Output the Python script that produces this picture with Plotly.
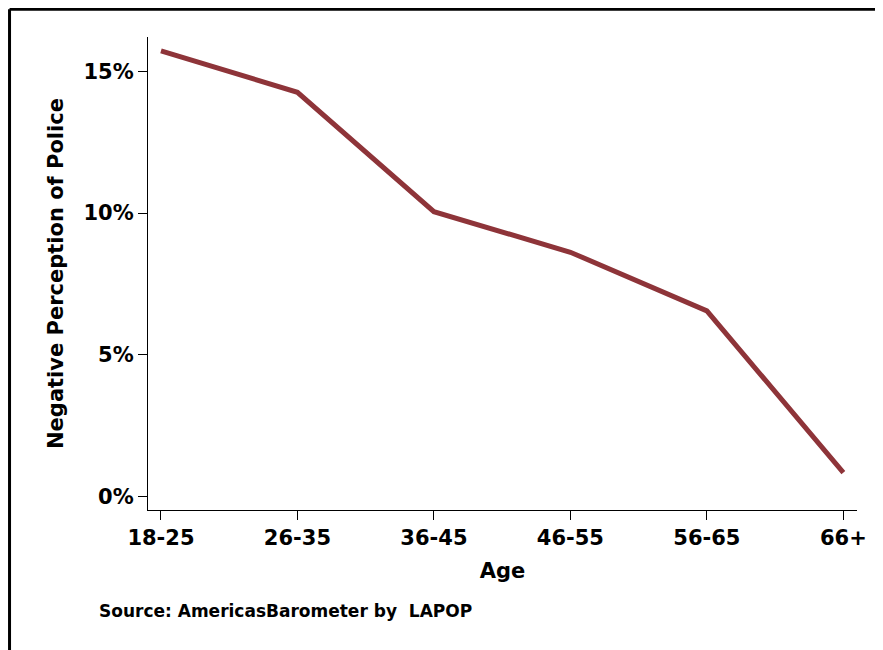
import plotly.graph_objects as go

age_groups = ["18-25", "26-35", "36-45", "46-55", "56-65", "66+"]
negative_perception = [15.72, 14.26, 10.05, 8.62, 6.55, 0.85]

y_ticks = [0, 5, 10, 15]
y_tick_labels = ["0%", "5%", "10%", "15%"]

FONT = "DejaVu Sans"
LINE_COLOR = "#8E3439"

fig = go.Figure()

fig.add_trace(
    go.Scatter(
        x=age_groups,
        y=negative_perception,
        mode="lines",
        line=dict(color=LINE_COLOR, width=5),
        showlegend=False,
    )
)

# Stata-like frame: only the top and left edges show in the crop
frame = dict(color="black", width=3)
fig.add_shape(type="line", xref="paper", yref="paper",
              x0=-0.1953, x1=1.2, y0=1.0588, y1=1.0588, line=frame)
fig.add_shape(type="line", xref="paper", yref="paper",
              x0=-0.1953, x1=-0.1953, y0=-0.4, y1=1.0588, line=frame)

fig.add_annotation(
    text="Source: AmericasBarometer by  LAPOP",
    xref="paper", yref="paper",
    x=-0.072, y=-0.2135,
    xanchor="left", yanchor="middle",
    showarrow=False,
    font=dict(family=FONT, size=17, color="black", weight="bold"),
)

axis_common = dict(
    showline=True,
    linecolor="black",
    linewidth=1.2,
    ticks="outside",
    ticklen=9,
    tickwidth=1.2,
    tickcolor="black",
    showgrid=False,
    zeroline=False,
    tickfont=dict(family=FONT, size=21, color="black", weight="bold"),
)

fig.update_layout(
    width=883,
    height=650,
    margin=dict(l=140, r=34, t=29, b=148),
    paper_bgcolor="white",
    plot_bgcolor="white",
    xaxis=dict(
        **axis_common,
        range=[-0.095, 5.1],
        title=dict(text="Age", standoff=14,
                   font=dict(family=FONT, size=21, color="black", weight="bold")),
    ),
    yaxis=dict(
        **axis_common,
        range=[-0.47, 16.21],
        tickvals=y_ticks,
        ticktext=y_tick_labels,
        title=dict(text="Negative Perception of Police", standoff=14,
                   font=dict(family=FONT, size=21, color="black", weight="bold")),
    ),
)

fig.write_html("out.html")
